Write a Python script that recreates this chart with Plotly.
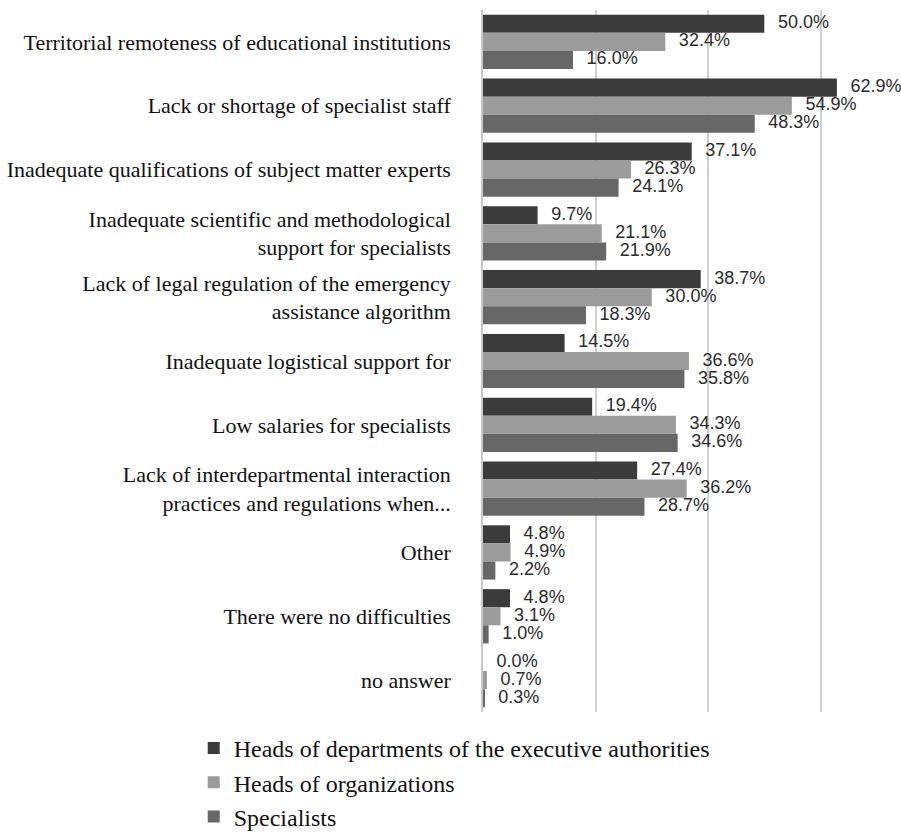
import plotly.graph_objects as go

categories = [
    "Territorial remoteness of educational institutions",
    "Lack or shortage of specialist staff",
    "Inadequate qualifications of subject matter experts",
    "Inadequate scientific and methodological<br>support for specialists",
    "Lack of legal regulation of the emergency<br>assistance algorithm",
    "Inadequate logistical support for",
    "Low salaries for specialists",
    "Lack of interdepartmental interaction<br>practices and regulations when...",
    "Other",
    "There were no difficulties",
    "no answer",
]
heads_exec = [50.0, 62.9, 37.1, 9.7, 38.7, 14.5, 19.4, 27.4, 4.8, 4.8, 0.0]
heads_org = [32.4, 54.9, 26.3, 21.1, 30.0, 36.6, 34.3, 36.2, 4.9, 3.1, 0.7]
specialists = [16.0, 48.3, 24.1, 21.9, 18.3, 35.8, 34.6, 28.7, 2.2, 1.0, 0.3]

series = [
    ("Heads of departments of the executive authorities", heads_exec, "#3b3b3b"),
    ("Heads of organizations", heads_org, "#9b9b9b"),
    ("Specialists", specialists, "#676767"),
]

fig = go.Figure()
for i, (name, vals, col) in enumerate(series):
    fig.add_trace(go.Bar(
        y=categories, x=vals, name=name, orientation="h",
        marker=dict(color=col, line=dict(width=0)),
        offsetgroup=f"s{i}", alignmentgroup="a",
        legendgroup=f"g{i}",
    ))
for i, (name, vals, col) in enumerate(series):
    fig.add_trace(go.Scatter(
        y=categories, x=vals, name=name, orientation="h", mode="text",
        text=[f"  \u2009{v:.1f}%" for v in vals], textposition="middle right",
        textfont=dict(family="Liberation Sans, Arial", size=18, color="#2b2b2b"),
        offsetgroup=f"s{i}", alignmentgroup="a",
        showlegend=False, cliponaxis=False, hoverinfo="skip",
    ))

fig.update_layout(
    width=901, height=836,
    margin=dict(l=483, r=0, t=10, b=124, autoexpand=False),
    barmode="group", bargap=0.15, bargroupgap=0,
    scattermode="group", scattergap=0.15,
    plot_bgcolor="white", paper_bgcolor="white",
    font=dict(family="Liberation Serif, Times New Roman", color="#111"),
    legend=dict(
        xref="container", yref="container", x=0.215, y=1 - 726 / 836,
        xanchor="left", yanchor="top", orientation="v",
        font=dict(family="Liberation Serif, Times New Roman", size=24, color="#111"),
        tracegroupgap=0,
    ),
    showlegend=True,
)
fig.update_xaxes(range=[0, 74.3], autorange=False, showticklabels=False, showgrid=True,
                 gridcolor="#d0d0d0", gridwidth=1.5, tickvals=[20, 40, 60],
                 zeroline=False, showline=False, automargin=False)
fig.update_yaxes(autorange="reversed", showline=True, linecolor="#c8c8c8", linewidth=1.5,
                 ticks="", ticklabelstandoff=26, automargin=False,
                 tickfont=dict(family="Liberation Serif, Times New Roman", size=22, color="#111"))

fig.write_html("out.html")
